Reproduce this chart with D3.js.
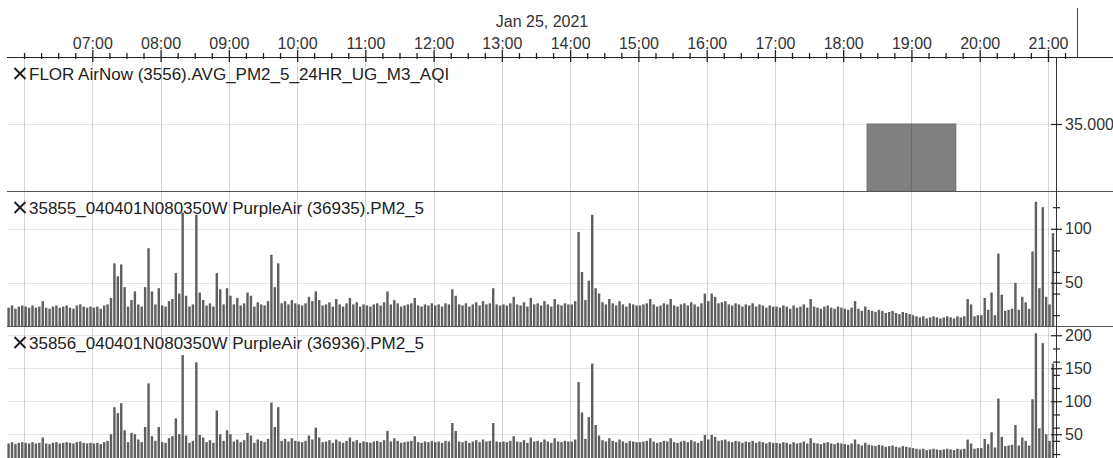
<!DOCTYPE html>
<html>
<head>
<meta charset="utf-8">
<script src="https://cdn.jsdelivr.net/npm/d3@7"></script>
<style>
  html, body { margin: 0; padding: 0; background: #fff; }
  svg { display: block; font-family: "Liberation Sans", Arial, sans-serif; }
</style>
</head>
<body>
<svg id="chart" width="1113" height="458"></svg>
<script>
// ---- data ---------------------------------------------------------------
const dateLabel = "Jan 25, 2021";
const hourLabels = ["07:00", "08:00", "09:00", "10:00", "11:00", "12:00", "13:00",
  "14:00", "15:00", "16:00", "17:00", "18:00", "19:00", "20:00", "21:00"];

const channelNames = [
  "FLOR AirNow (3556).AVG_PM2_5_24HR_UG_M3_AQI",
  "35855_040401N080350W PurpleAir (36935).PM2_5",
  "35856_040401N080350W PurpleAir (36936).PM2_5"
];

// AirNow hourly AQI sample
const airNowTimes = ["19:00"];
const airNowAqi = [35];
const airNowTicks = [35];

// PurpleAir samples, one every 3 minutes starting at 05:45
const sampleStart = "05:45";
const sampleStepMinutes = 3;

const pa36935 = [
  27, 29, 26, 28, 29,
  28, 27, 29, 27, 28, 33, 27, 26, 28, 29, 27, 28, 29, 27, 26, 29, 30, 28, 27, 28,
  27, 28, 26, 29, 30, 36, 68, 56, 67, 46, 28, 34, 42, 30, 28, 46, 82, 42, 30, 45,
  29, 28, 33, 35, 59, 40, 115, 38, 28, 30, 113, 41, 34, 29, 31, 28, 59, 44, 30, 45,
  38, 30, 36, 29, 31, 41, 38, 28, 32, 30, 29, 33, 76, 46, 68, 31, 33, 30, 34, 31,
  30, 29, 31, 37, 33, 42, 34, 29, 30, 32, 28, 35, 30, 28, 31, 36, 30, 32, 28, 30,
  29, 28, 30, 31, 29, 32, 42, 30, 34, 31, 28, 29, 30, 31, 36, 29, 28, 30, 29, 31,
  29, 30, 28, 31, 30, 44, 38, 30, 29, 31, 28, 30, 32, 29, 33, 30, 31, 45, 30, 29,
  30, 29, 31, 37, 30, 29, 32, 28, 36, 30, 31, 29, 33, 30, 28, 35, 30, 29, 31, 30,
  30, 33, 97, 60, 34, 52, 113, 45, 40, 32, 30, 35, 31, 29, 33, 30, 28, 31, 30, 29,
  29, 30, 31, 35, 30, 28, 29, 31, 30, 35, 29, 28, 30, 31, 29, 32, 30, 28, 31, 40,
  33, 40, 37, 31, 32, 33, 30, 29, 31, 30, 28, 30, 29, 31, 28, 30, 29, 27, 29, 28,
  28, 27, 29, 28, 26, 29, 27, 28, 30, 27, 35, 28, 27, 26, 28, 29, 27, 26, 28, 27,
  26, 25, 27, 33, 26, 24, 28, 25, 24, 23, 25, 24, 22, 23, 24, 22, 21, 23, 22, 21,
  20, 19, 18, 19, 17, 18, 19, 18, 17, 18, 19, 18, 17, 19, 18, 19, 35, 30, 19, 20,
  20, 36, 25, 41, 20, 77, 39, 24, 25, 26, 50, 25, 37, 32, 26, 79, 125, 45, 120, 37,
  30, 96
];

const pa36936 = [
  36, 38, 35, 37, 38,
  37, 36, 38, 36, 37, 45, 36, 35, 37, 38, 36, 37, 38, 37, 36, 38, 39, 37, 36, 37,
  36, 37, 35, 38, 40, 50, 91, 82, 97, 56, 38, 52, 50, 42, 38, 61, 127, 47, 40, 61,
  38, 37, 44, 47, 74, 50, 170, 48, 37, 40, 159, 49, 45, 38, 41, 37, 86, 50, 40, 56,
  50, 39, 42, 38, 41, 52, 48, 37, 42, 40, 38, 43, 98, 61, 91, 40, 43, 39, 44, 40,
  39, 38, 40, 48, 42, 60, 45, 38, 39, 41, 37, 42, 39, 37, 40, 45, 39, 41, 37, 39,
  38, 37, 39, 40, 38, 41, 55, 39, 44, 40, 37, 38, 39, 40, 47, 38, 37, 39, 38, 40,
  38, 39, 37, 40, 39, 67, 55, 39, 38, 40, 37, 39, 41, 38, 42, 39, 40, 67, 39, 38,
  39, 38, 40, 47, 39, 38, 41, 37, 45, 39, 40, 38, 42, 39, 37, 44, 39, 38, 40, 39,
  39, 42, 129, 83, 43, 76, 157, 64, 48, 41, 39, 44, 40, 38, 42, 39, 37, 40, 39, 38,
  38, 39, 40, 44, 39, 37, 38, 40, 39, 44, 38, 37, 39, 40, 38, 41, 39, 37, 40, 49,
  42, 49, 46, 40, 41, 42, 39, 38, 40, 39, 37, 39, 38, 40, 37, 39, 38, 36, 38, 37,
  37, 36, 38, 37, 35, 38, 36, 37, 39, 36, 44, 37, 36, 35, 37, 38, 36, 35, 37, 36,
  35, 34, 36, 42, 35, 33, 37, 34, 33, 32, 34, 33, 31, 32, 33, 31, 30, 32, 31, 30,
  29, 28, 27, 28, 26, 27, 28, 27, 26, 27, 28, 27, 26, 28, 27, 28, 42, 36, 28, 29,
  29, 43, 35, 53, 30, 104, 46, 32, 33, 34, 64, 33, 45, 40, 33, 103, 203, 59, 188, 50,
  40, 157
];

const pa36935Ticks = [50, 100];
const pa36936Ticks = [50, 100, 150, 200];

// ---- layout -------------------------------------------------------------
const W = 1113, H = 458;
const axisY = 57;
const plotLeft = 7, plotRight = 1056, axisEnd = 1077;
const panels = [
  { top: 57,  bottom: 191, domain: [0, 70],   name: channelNames[0] },
  { top: 191, bottom: 326, domain: [10, 135], name: channelNames[1] },
  { top: 326, bottom: 458, domain: [14, 214], name: channelNames[2] }
];

const svg = d3.select("#chart");
const parseT = s => d3.timeParse("%Y-%m-%d %H:%M")("2021-01-25 " + s);
const fmtHM = d3.timeFormat("%H:%M");

const pxPerHour = 68.26;
const x = d3.scaleTime()
  .domain([parseT("05:45"), parseT("21:45")])
  .range([plotLeft, plotLeft + 16 * pxPerHour]);

panels.forEach(p => {
  p.y = d3.scaleLinear().domain(p.domain).range([p.bottom, p.top]);
});

// clip paths per panel
const defs = svg.append("defs");
panels.forEach((p, i) => {
  defs.append("clipPath").attr("id", "clip" + i)
    .append("rect").attr("x", plotLeft).attr("y", p.top)
    .attr("width", plotRight - plotLeft).attr("height", p.bottom - p.top);
});

// horizontal gridlines at labelled values
const majorTicks = [airNowTicks, pa36935Ticks, pa36936Ticks];
panels.forEach((p, i) => {
  svg.append("g").selectAll("line").data(majorTicks[i]).join("line")
    .attr("x1", plotLeft).attr("x2", plotRight)
    .attr("y1", d => Math.round(p.y(d)) + 0.5).attr("y2", d => Math.round(p.y(d)) + 0.5)
    .attr("stroke", "#e6e6e6").attr("stroke-width", 1);
});

// ---- bars -----------------------------------------------------------------
const t0 = parseT(sampleStart);
const sampleTimes = pa36935.map((_, k) => d3.timeMinute.offset(t0, k * sampleStepMinutes));

function drawSeries(panelIdx, values) {
  const p = panels[panelIdx];
  svg.append("g").attr("clip-path", `url(#clip${panelIdx})`)
    .selectAll("rect").data(values).join("rect")
    .attr("x", (d, k) => x(sampleTimes[k]) + 0.4)
    .attr("width", (d, k) => x(d3.timeMinute.offset(sampleTimes[k], sampleStepMinutes)) - x(sampleTimes[k]) - 1.0)
    .attr("y", d => p.y(d))
    .attr("height", d => p.bottom - p.y(d))
    .attr("fill", "#5f5f5f");
}

// AirNow hourly bar
const airHalfMinutes = 39;
svg.append("g").attr("clip-path", "url(#clip0)")
  .selectAll("rect").data(airNowAqi).join("rect")
  .attr("x", (d, i) => x(d3.timeMinute.offset(parseT(airNowTimes[i]), -airHalfMinutes)))
  .attr("width", (d, i) => x(d3.timeMinute.offset(parseT(airNowTimes[i]), airHalfMinutes)) -
                           x(d3.timeMinute.offset(parseT(airNowTimes[i]), -airHalfMinutes)))
  .attr("y", d => panels[0].y(d))
  .attr("height", d => panels[0].bottom - panels[0].y(d))
  .attr("fill", "#808080").attr("stroke", "#6e6e6e").attr("stroke-width", 1);

drawSeries(1, pa36935);
drawSeries(2, pa36936);

// hourly vertical gridlines
const hours = d3.timeHour.range(parseT("06:00"), parseT("21:01"));
svg.append("g").selectAll("line").data(hours).join("line")
  .attr("x1", d => Math.round(x(d)) + 0.5).attr("x2", d => Math.round(x(d)) + 0.5)
  .attr("y1", axisY).attr("y2", H)
  .attr("stroke", "rgba(0,0,0,0.17)").attr("stroke-width", 1);

// panel separators
svg.append("g").selectAll("line").data(panels.slice(1)).join("line")
  .attr("x1", plotLeft).attr("x2", W)
  .attr("y1", d => d.top + 0.5).attr("y2", d => d.top + 0.5)
  .attr("stroke", "#555").attr("stroke-width", 1);

// ---- time axis ------------------------------------------------------------
const quarters = d3.timeMinute.every(15).range(parseT("06:00"), parseT("21:16"));
const isHour = d => d.getMinutes() === 0;
const timeAxis = svg.append("g").attr("transform", `translate(0,${axisY})`)
  .call(d3.axisTop(x).tickValues(quarters)
    .tickFormat(d => hourLabels.includes(fmtHM(d)) ? fmtHM(d) : "")
    .tickSizeOuter(0));
timeAxis.select(".domain").remove();
timeAxis.selectAll(".tick line")
  .attr("y1", d => isHour(d) && fmtHM(d) !== "06:00" ? 5 : 2)
  .attr("y2", d => isHour(d) && fmtHM(d) !== "06:00" ? -7 : -4)
  .attr("stroke", "#222").attr("stroke-width", 1.3);
timeAxis.selectAll(".tick text")
  .attr("y", -8).attr("dy", 0)
  .attr("font-size", 16).attr("font-family", "Liberation Sans, Arial, sans-serif")
  .attr("fill", "#333");

svg.append("line")
  .attr("x1", plotLeft).attr("x2", W)
  .attr("y1", axisY + 0.5).attr("y2", axisY + 0.5)
  .attr("stroke", "#222").attr("stroke-width", 1.2);

svg.append("line")
  .attr("x1", axisEnd + 0.5).attr("x2", axisEnd + 0.5)
  .attr("y1", 8).attr("y2", axisY)
  .attr("stroke", "#444").attr("stroke-width", 1);

svg.append("text")
  .attr("x", (plotLeft + axisEnd) / 2).attr("y", 27)
  .attr("text-anchor", "middle").attr("font-size", 16).attr("fill", "#333")
  .text(dateLabel);

// ---- value axes -------------------------------------------------------------
svg.append("line")
  .attr("x1", plotRight + 0.5).attr("x2", plotRight + 0.5)
  .attr("y1", axisY).attr("y2", H)
  .attr("stroke", "#333").attr("stroke-width", 1);

const minorStep = [null, 20, 20];
panels.forEach((p, i) => {
  const majors = majorTicks[i];
  let minors = [];
  if (minorStep[i]) {
    minors = d3.range(minorStep[i], p.domain[1], minorStep[i])
      .filter(v => v > p.domain[0] && !majors.includes(v));
  }
  const fmt = i === 0 ? d3.format(".3f") : d3.format("d");
  const g = svg.append("g").attr("transform", `translate(${plotRight},0)`)
    .call(d3.axisRight(p.y).tickValues(majors.concat(minors))
      .tickFormat(d => majors.includes(d) ? fmt(d) : "")
      .tickSizeOuter(0));
  g.select(".domain").remove();
  g.selectAll(".tick line")
    .attr("x1", d => majors.includes(d) ? -5 : -3)
    .attr("x2", d => majors.includes(d) ? 6 : 4)
    .attr("stroke", "#222").attr("stroke-width", 1.2);
  g.selectAll(".tick text")
    .attr("x", 9).attr("font-size", 16)
    .attr("font-family", "Liberation Sans, Arial, sans-serif").attr("fill", "#333");
});

// ---- channel titles ---------------------------------------------------------
panels.forEach(p => {
  const g = svg.append("g").attr("transform", `translate(0,${p.top})`);
  g.append("path")
    .attr("d", "M14.5,11 L25.5,22 M25.5,11 L14.5,22")
    .attr("stroke", "#222").attr("stroke-width", 2).attr("fill", "none");
  g.append("text")
    .attr("x", 29).attr("y", 23)
    .attr("font-size", 17).attr("fill", "#222")
    .text(p.name);
});
</script>
</body>
</html>
